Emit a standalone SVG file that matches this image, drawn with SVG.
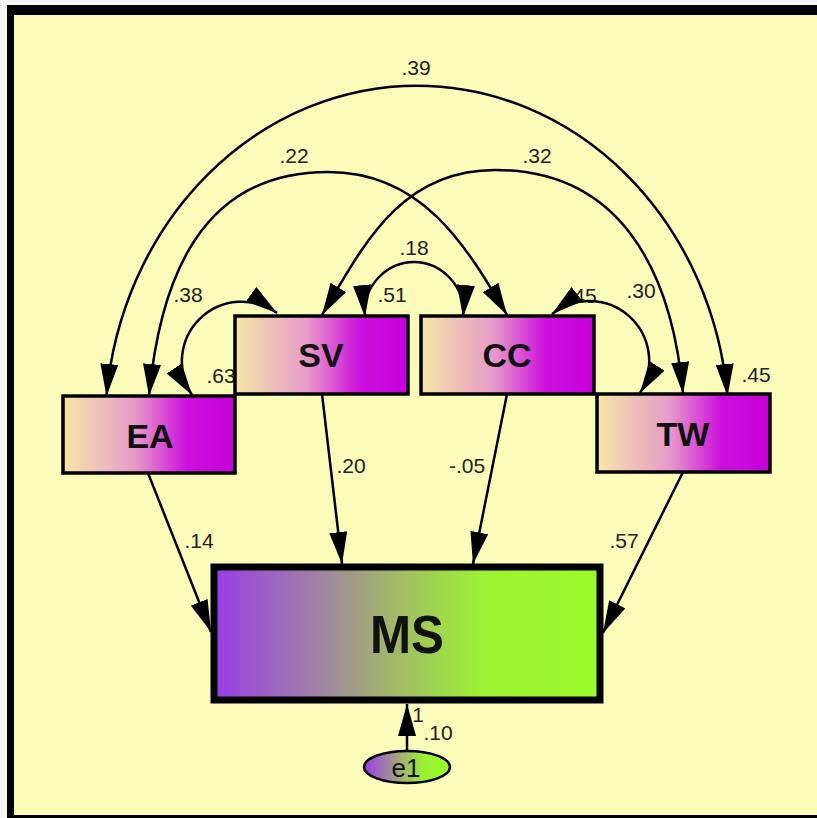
<svg xmlns="http://www.w3.org/2000/svg" width="817" height="818" viewBox="0 0 817 818">
<style>
.box{stroke:#000;stroke-width:3.5}
.nt{font-family:"Liberation Sans",Arial,sans-serif;font-weight:bold;fill:#111;text-anchor:middle}
.lb{font-family:"Liberation Sans",Arial,sans-serif;font-size:21px;fill:#222;text-anchor:middle}
.cn{fill:none;stroke:#000;stroke-width:2.5}
</style>
<defs>
<linearGradient id="gp" x1="0" y1="0" x2="1" y2="0">
<stop offset="0" stop-color="#F6E6A8"/>
<stop offset="0.42" stop-color="#E79AC8"/>
<stop offset="0.72" stop-color="#CC10DC"/>
<stop offset="1" stop-color="#C600DA"/>
</linearGradient>
<linearGradient id="gm" x1="0" y1="0" x2="1" y2="0">
<stop offset="0" stop-color="#9A3CE8"/>
<stop offset="0.3" stop-color="#A08A9C"/>
<stop offset="0.45" stop-color="#A2B46C"/>
<stop offset="0.7" stop-color="#9CF232"/>
<stop offset="1" stop-color="#9AFC2A"/>
</linearGradient>
<marker id="ah" markerUnits="userSpaceOnUse" viewBox="0 0 32 18" refX="32" refY="9" markerWidth="32" markerHeight="18" orient="auto-start-reverse">
<path d="M0,0 L32,9 L0,18 z" fill="#000"/>
</marker>
</defs>
<rect x="0" y="0" width="817" height="818" fill="#F4F4F4"/>
<rect x="7" y="5" width="820" height="820" fill="#000"/>
<rect x="14" y="15" width="810" height="800" fill="#FAFCBA"/>

<g id="labels">
<text class="lb" x="416" y="75">.39</text>
<text class="lb" x="294" y="163">.22</text>
<text class="lb" x="537" y="163">.32</text>
<text class="lb" x="414" y="255">.18</text>
<text class="lb" x="392" y="302">.51</text>
<text class="lb" x="188" y="302">.38</text>
<text class="lb" x="221" y="383">.63</text>
<text class="lb" x="582" y="303">.45</text>
<text class="lb" x="641" y="298">.30</text>
<text class="lb" x="756" y="382">.45</text>
<text class="lb" x="351" y="473">.20</text>
<text class="lb" x="467" y="473">-.05</text>
<text class="lb" x="199" y="548">.14</text>
<text class="lb" x="624" y="548">.57</text>
<text class="lb" x="418" y="722">1</text>
<text class="lb" x="438" y="740">.10</text>
</g>

<g id="connectors">
<path class="cn" marker-start="url(#ah)" marker-end="url(#ah)" d="M106.5,396 A312,344 0 0 1 727.5,396"/>
<path class="cn" marker-start="url(#ah)" marker-end="url(#ah)" d="M149,396 C160,280 200,172 328,172 C423,172 466,246 507,315"/>
<path class="cn" marker-start="url(#ah)" marker-end="url(#ah)" d="M322,315 C363,246 400,170 495,170 C620,170 672,270 683,394"/>
<path class="cn" marker-start="url(#ah)" marker-end="url(#ah)" d="M365,317 C362,285 388,262 414,262 C440,262 466,285 463,317"/>
<path class="cn" marker-start="url(#ah)" marker-end="url(#ah)" d="M192,395 A60,60 0 0 1 277,313"/>
<path class="cn" marker-start="url(#ah)" marker-end="url(#ah)" d="M552,314 A60,60 0 0 1 640,393"/>
<path class="cn" marker-end="url(#ah)" d="M148,473 L211,632"/>
<path class="cn" marker-end="url(#ah)" d="M322,394 L342,564"/>
<path class="cn" marker-end="url(#ah)" d="M507,394 L473,564"/>
<path class="cn" marker-end="url(#ah)" d="M683,472 L603,633"/>
<path class="cn" marker-end="url(#ah)" d="M407,752 L407,704"/>
</g>

<g id="EA">
<rect class="box" x="63" y="396" width="172" height="77" fill="url(#gp)"/>
<text class="nt" x="150" y="448" font-size="34">EA</text>
</g>
<g id="SV">
<rect class="box" x="235" y="316" width="173" height="78" fill="url(#gp)"/>
<text class="nt" x="321" y="367" font-size="34">SV</text>
</g>
<g id="CC">
<rect class="box" x="421" y="316" width="173" height="78" fill="url(#gp)"/>
<text class="nt" x="507" y="367" font-size="34">CC</text>
</g>
<g id="TW">
<rect class="box" x="597" y="394" width="173" height="78" fill="url(#gp)"/>
<text class="nt" x="683" y="446" font-size="34">TW</text>
</g>
<g id="MS">
<rect x="214" y="567" width="386" height="133" fill="url(#gm)" stroke="#000" stroke-width="7"/>
<text class="nt" x="407" y="653" font-size="53" textLength="74" lengthAdjust="spacingAndGlyphs">MS</text>
</g>
<g id="e1">
<ellipse cx="407" cy="767" rx="43" ry="16" fill="url(#gm)" stroke="#000" stroke-width="2.5"/>
<text x="406" y="777" font-family="Liberation Sans, Arial, sans-serif" font-size="26" fill="#111" text-anchor="middle">e1</text>
</g>
</svg>
